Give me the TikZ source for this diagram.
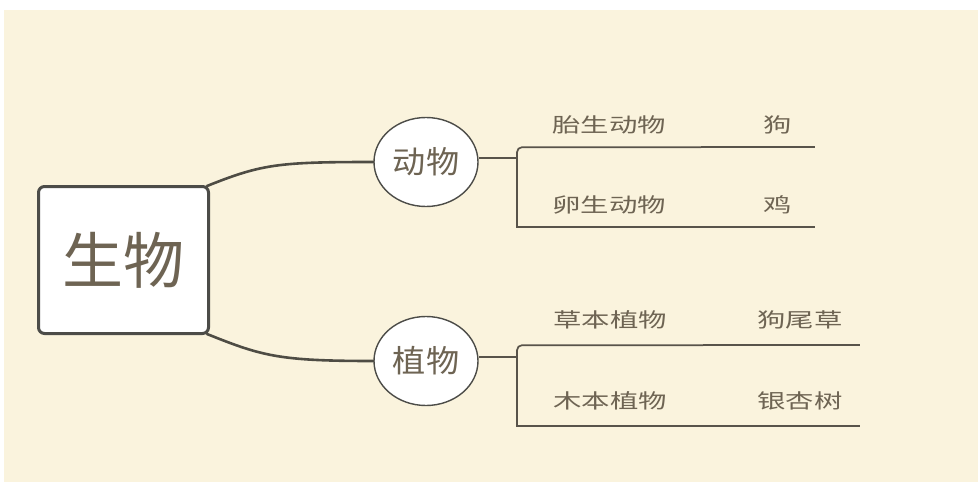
\documentclass[tikz,border=0pt]{standalone}
\usepackage{fontspec}
\usetikzlibrary{shapes.geometric}
\newfontfamily\cjkroot{Noto Sans CJK SC}
\newfontfamily\cjkmid[FakeStretch=1.07]{Noto Sans CJK SC}
\newfontfamily\cjkleaf[FakeStretch=1.42]{Noto Sans CJK SC}
\definecolor{bgbeige}{HTML}{FAF3DD}
\definecolor{txtbrown}{HTML}{6E6453}
\definecolor{rootline}{HTML}{4C4C48}
\definecolor{branchline}{HTML}{4E4C44}
\definecolor{twigline}{HTML}{58534A}
\tikzset{
  rootbox/.style={draw=rootline, line width=3pt, fill=white, rounded corners=6pt,
    minimum width=170pt, minimum height=147pt, inner sep=0pt,
    text=txtbrown, font=\cjkroot\fontsize{61}{61}\selectfont},
  midbox/.style={ellipse, draw=rootline, line width=1.4pt, fill=white,
    minimum width=104pt, minimum height=89pt, inner sep=0pt,
    text=txtbrown, font=\cjkmid\fontsize{31}{31}\selectfont},
  leaf/.style={inner sep=0pt, minimum height=44pt,
    text=txtbrown, font=\cjkleaf\fontsize{20}{20}\selectfont},
  branch/.style={draw=branchline, line width=2.6pt, line cap=round},
  twig/.style={draw=twigline, line width=1.7pt},
}
\begin{document}
\begin{tikzpicture}[x=1pt, y=-1pt]
\useasboundingbox (0,0) rectangle (978,482);
\fill[white] (0,0) rectangle (978,482);
\fill[bgbeige] (4,10) rectangle (978,482);

% root
\node[rootbox] (root) at (123.5,260) {\raisebox{-3pt}{生物}};

% middle nodes
\node[midbox] (animal) at (426,162) {动物};
\node[midbox] (plant) at (426,361) {植物};

% curved branches
\draw[branch] ([xshift=-3pt,yshift=-1pt]root.north east)
  .. controls +(55,-22) and +(-95,0) .. (animal.west);
\draw[branch] ([xshift=-3pt,yshift=1pt]root.south east)
  .. controls +(55,22) and +(-95,0) .. (plant.west);

% leaves: animals
\node[leaf, minimum width=184pt] (tai) at (609,125) {胎生动物};
\node[leaf, minimum width=75pt] (gou) at (777.5,125) {狗};
\node[leaf, minimum width=184pt] (luan) at (609,205) {卵生动物};
\node[leaf, minimum width=75pt] (ji) at (777.5,205) {鸡};

% leaves: plants
\node[leaf, minimum width=186pt, minimum height=50pt] (cao) at (610,320) {草本植物};
\node[leaf, minimum width=120pt, minimum height=50pt] (gwc) at (800,320) {狗尾草};
\node[leaf, minimum width=186pt, minimum height=50pt] (mu) at (610,401) {木本植物};
\node[leaf, minimum width=120pt, minimum height=50pt] (yxs) at (800,401) {银杏树};

% bracket joints
\coordinate (ja) at (517,158);
\coordinate (jp) at (517,357);

% animal connectors
\draw[twig] ([yshift=4pt]animal.east) -- (ja);
\draw[twig, rounded corners=5pt] (ja) |- (tai.south east);
\draw[twig] (ja) |- (luan.south east);
\draw[twig] (tai.south east) -- (gou.south west) -- (gou.south east);
\draw[twig] (luan.south east) -- (ji.south west) -- (ji.south east);

% plant connectors
\draw[twig] ([yshift=4pt]plant.east) -- (jp);
\draw[twig, rounded corners=5pt] (jp) |- (cao.south east);
\draw[twig] (jp) |- (mu.south east);
\draw[twig] (cao.south east) -- (gwc.south west) -- (gwc.south east);
\draw[twig] (mu.south east) -- (yxs.south west) -- (yxs.south east);
\end{tikzpicture}
\end{document}
